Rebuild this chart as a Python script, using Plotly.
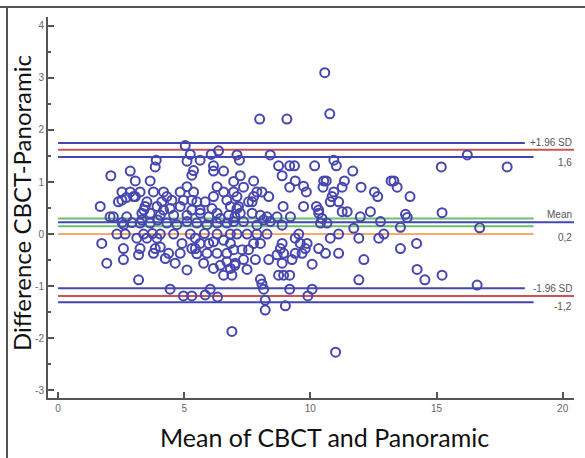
import plotly.graph_objects as go

# Mean of CBCT and Panoramic (x) and Difference CBCT-Panoramic (y)
mean_vals = [
    10.57, 10.77, 7.99, 9.07, 6.89, 11.0,
    5.04, 5.24, 5.11, 5.63, 6.07, 6.36, 7.09, 3.89, 3.85, 2.09, 2.86, 3.06, 3.65, 5.37, 5.30, 6.16, 6.16, 6.56, 6.96, 7.22,
    2.53, 2.86, 3.25, 2.53, 2.70, 3.06, 3.78, 4.18, 4.31, 4.11, 4.51, 4.84, 5.11, 5.37, 4.97, 5.30, 5.50, 5.83, 6.16, 6.30, 6.56, 6.96, 6.69, 7.09,
    1.67, 3.52, 3.45, 3.92, 4.44, 4.84, 5.63, 6.10, 6.83, 7.09, 2.39, 2.99,
    2.06, 2.19, 2.72, 3.32, 3.40, 3.65, 4.05, 4.18, 4.58, 5.11, 5.30, 5.63, 5.97, 6.30, 6.43, 6.76, 7.01,
    2.54, 2.60, 2.92, 3.25, 3.32, 3.65, 3.95, 4.31, 4.71, 5.11, 5.50, 5.90, 6.30, 6.69, 6.96,
    2.33, 2.66, 3.39, 3.74, 4.05, 4.58, 5.24, 5.80, 6.30, 6.83,
    1.73, 3.12, 3.52, 3.92, 4.91, 5.44, 5.63, 5.97, 6.16, 6.56, 6.83,
    2.59, 3.25, 3.19, 3.85, 4.05, 3.78, 4.38, 4.84, 5.44, 5.90, 6.30, 6.69, 6.96, 5.30, 5.50,
    2.59, 1.93, 4.25, 4.64, 5.11, 5.77, 6.16, 6.43, 6.69, 6.83, 7.01, 6.56, 6.89, 3.19,
    4.44, 4.97, 5.30, 5.83, 6.03, 6.32,
    7.19, 8.41, 8.74, 9.18, 9.37, 8.88, 10.17, 10.93, 11.03, 11.68,
    7.75, 9.40, 9.73, 9.84, 9.18, 10.53, 10.63, 10.50, 11.35, 11.26, 10.93, 10.86, 10.79, 11.12, 12.01, 12.54, 12.67, 13.20, 13.31, 13.44, 13.95,
    7.35, 7.55, 7.88, 8.08, 7.75, 7.69, 8.35, 7.15, 8.92, 9.73, 10.24, 10.33, 11.26, 11.46, 12.38, 13.77,
    7.22, 7.69, 8.02, 8.28, 8.68, 9.21, 10.33, 10.46, 11.98, 13.84,
    7.35, 7.88, 8.15, 8.41, 8.88, 10.40, 10.66, 11.72, 12.78,
    7.09, 7.49, 7.88, 8.28, 9.54, 11.12, 12.91,
    7.75, 8.02, 9.40, 9.60, 9.87, 8.88, 10.79, 11.92, 12.71,
    7.29, 7.55, 8.81, 8.94, 8.68, 9.40, 9.67, 9.80, 10.33, 10.60, 11.12, 13.57,
    7.02, 7.35, 7.82, 8.35, 8.88, 9.27, 10.07, 12.12, 7.49,
    8.74, 8.94, 9.18, 8.02, 8.08, 11.92,
    8.15, 9.18, 10.07, 9.90, 8.21, 8.21, 9.01,
    16.22, 15.19, 17.80, 15.22, 16.71, 13.57, 14.21, 14.23, 14.54, 15.22, 16.61,
]
diff_vals = [
    3.10, 2.31, 2.21, 2.21, -1.87, -2.27,
    1.70, 1.53, 1.40, 1.42, 1.53, 1.60, 1.52, 1.42, 1.29, 1.12, 1.21, 1.02, 1.02, 1.22, 1.13, 1.31, 1.21, 1.21, 1.01, 1.12,
    0.81, 0.81, 0.81, 0.65, 0.70, 0.72, 0.81, 0.81, 0.72, 0.62, 0.65, 0.81, 0.91, 0.81, 0.65, 0.65, 0.62, 0.62, 0.72, 0.91, 0.81, 0.81, 0.65, 0.72,
    0.53, 0.62, 0.53, 0.53, 0.49, 0.53, 0.46, 0.49, 0.53, 0.49, 0.62, 0.72,
    0.33, 0.33, 0.33, 0.40, 0.46, 0.40, 0.36, 0.46, 0.36, 0.36, 0.46, 0.40, 0.33, 0.40, 0.30, 0.36, 0.33,
    0.22, 0.18, 0.22, 0.21, 0.27, 0.21, 0.27, 0.21, 0.18, 0.24, 0.21, 0.18, 0.21, 0.21, 0.24,
    0.00, 0.00, 0.00, 0.01, 0.00, 0.00, 0.00, 0.01, 0.00, 0.00,
    -0.18, -0.08, -0.08, -0.08, -0.18, -0.08, -0.18, -0.18, -0.15, -0.12, -0.18,
    -0.28, -0.28, -0.40, -0.28, -0.25, -0.37, -0.37, -0.37, -0.28, -0.37, -0.37, -0.37, -0.30, -0.28, -0.38,
    -0.49, -0.56, -0.47, -0.56, -0.69, -0.56, -0.66, -0.60, -0.53, -0.66, -0.60, -0.79, -0.79, -0.88,
    -1.06, -1.19, -1.19, -1.17, -1.06, -1.21,
    1.42, 1.52, 1.31, 1.31, 1.31, 1.12, 1.31, 1.42, 1.31, 1.21,
    1.02, 1.02, 0.92, 0.81, 0.90, 1.02, 1.02, 0.90, 1.02, 0.90, 0.81, 0.72, 0.62, 0.62, 0.90, 0.81, 0.72, 1.02, 1.02, 0.90, 0.72,
    0.90, 0.62, 0.81, 0.81, 0.72, 0.62, 0.72, 0.53, 0.53, 0.53, 0.53, 0.46, 0.43, 0.43, 0.43, 0.38,
    0.40, 0.40, 0.36, 0.33, 0.33, 0.33, 0.40, 0.30, 0.33, 0.32,
    0.24, 0.17, 0.27, 0.24, 0.17, 0.21, 0.21, 0.11, 0.24,
    0.00, 0.00, 0.00, 0.00, 0.00, 0.00, 0.00,
    -0.18, -0.18, -0.08, -0.18, -0.18, -0.18, -0.08, -0.08, -0.08,
    -0.30, -0.30, -0.28, -0.37, -0.40, -0.37, -0.37, -0.28, -0.28, -0.37, -0.37, -0.28,
    -0.56, -0.49, -0.49, -0.49, -0.56, -0.49, -0.58, -0.49, -0.68,
    -0.79, -0.79, -0.79, -0.87, -0.96, -0.88,
    -1.06, -1.06, -1.06, -1.19, -1.27, -1.46, -1.38,
    1.52, 1.29, 1.29, 0.41, 0.12, 0.13, -0.18, -0.68, -0.88, -0.79, -0.98,
]

# Reference levels
zero_level = 0.0
mean_diff = 0.225
mean_ci = [0.15, 0.30]
upper_loa = 1.62
upper_ci = [1.48, 1.75]
lower_loa = -1.19
lower_ci = [-1.31, -1.04]

x_ticks = [0, 5, 10, 15, 20]
y_ticks = [-3, -2, -1, 0, 1, 2, 3, 4]
y_ticktext = ["-3", "-2", "-1", "0", "1", "2", "3", "4"]

BLUE = "rgb(70,70,175)"
RED = "rgb(200,85,85)"
GREEN = "rgb(110,190,110)"
ORANGE = "rgb(248,170,110)"
AXIS = "#555555"
TXT = "#555555"

fig = go.Figure()

def hline(y, x0, x1, color):
    fig.add_trace(go.Scatter(x=[x0, x1], y=[y, y], mode="lines",
                             line=dict(color=color, width=2), hoverinfo="skip",
                             showlegend=False))

# limits of agreement and CIs
hline(upper_ci[1], 0.0, 18.5, BLUE)
hline(upper_loa, 0.0, 20.45, RED)
hline(upper_ci[0], 0.0, 18.85, BLUE)
hline(mean_ci[1], 0.0, 18.85, GREEN)
hline(mean_diff, 0.0, 20.45, BLUE)
hline(mean_ci[0], 0.0, 18.85, GREEN)
hline(zero_level, 0.0, 18.85, ORANGE)
hline(lower_ci[1], 0.0, 18.5, BLUE)
hline(lower_loa, 0.0, 20.45, RED)
hline(lower_ci[0], 0.0, 18.85, BLUE)

fig.add_trace(go.Scatter(
    x=mean_vals, y=diff_vals, mode="markers",
    marker=dict(symbol="circle-open", size=9, color=BLUE, line=dict(width=2, color=BLUE)),
    showlegend=False, cliponaxis=False))

lab_font = dict(family="Liberation Sans, Arial", size=10, color=TXT)
for txt, yv in [("+1.96 SD", upper_ci[1]), ("1,6", upper_ci[0] - 0.1),
                ("Mean", mean_ci[1] + 0.08), ("0,2", -0.06),
                ("-1.96 SD", lower_ci[1]), ("-1,2", lower_ci[0] - 0.09)]:
    fig.add_annotation(x=20.45, y=yv, xref="x", yref="y", text=txt, showarrow=False,
                       xanchor="right", yanchor="middle", font=lab_font)

# axis titles
fig.add_annotation(x=-27/526, y=(398-203)/381, xref="paper", yref="paper",
                   text="Difference CBCT-Panoramic", textangle=-90, showarrow=False,
                   xanchor="center", yanchor="middle",
                   font=dict(family="Lato, Open Sans", size=24, color="#111111"))
fig.add_annotation(x=(324-48)/526, y=-39/381, xref="paper", yref="paper",
                   text="Mean of CBCT and Panoramic", showarrow=False,
                   xanchor="center", yanchor="middle",
                   font=dict(family="Lato, Open Sans", size=25, color="#111111"))

tickfont = dict(family="Liberation Sans, Arial", size=10, color="#666666")
fig.update_layout(
    width=585, height=458,
    margin=dict(l=48, r=11, t=17, b=60),
    paper_bgcolor="white", plot_bgcolor="white",
    showlegend=False,
    xaxis=dict(range=[-0.4, 20.45], tickvals=x_ticks, ticks="inside", ticklen=6,
               tickwidth=2, tickcolor=AXIS, showline=True, linecolor=AXIS, linewidth=2,
               showgrid=False, zeroline=False, automargin=False, tickfont=tickfont),
    yaxis=dict(range=[-3.15, 4.17], tickvals=y_ticks, ticktext=y_ticktext,
               ticks="inside", ticklen=6, tickwidth=2, tickcolor=AXIS,
               minor=dict(dtick=0.5, ticks="inside", ticklen=3, tickcolor=AXIS, tickwidth=2),
               showline=True, linecolor=AXIS, linewidth=2, showgrid=False, zeroline=False,
               automargin=False, tickfont=tickfont),
)

# outer frame (top and left edges visible in the reference)
fig.add_shape(type="line", xref="paper", yref="paper", x0=-48/526, x1=1.05,
              y0=1 + 10/381, y1=1 + 10/381, line=dict(color="#555555", width=2))
fig.add_shape(type="line", xref="paper", yref="paper", x0=-41/526, x1=-41/526,
              y0=-0.2, y1=1 + 10/381, line=dict(color="#555555", width=2))

fig.write_html("out.html", config={"displayModeBar": False},
               post_script="document.body.style.margin='0';document.body.style.overflow='hidden';")
